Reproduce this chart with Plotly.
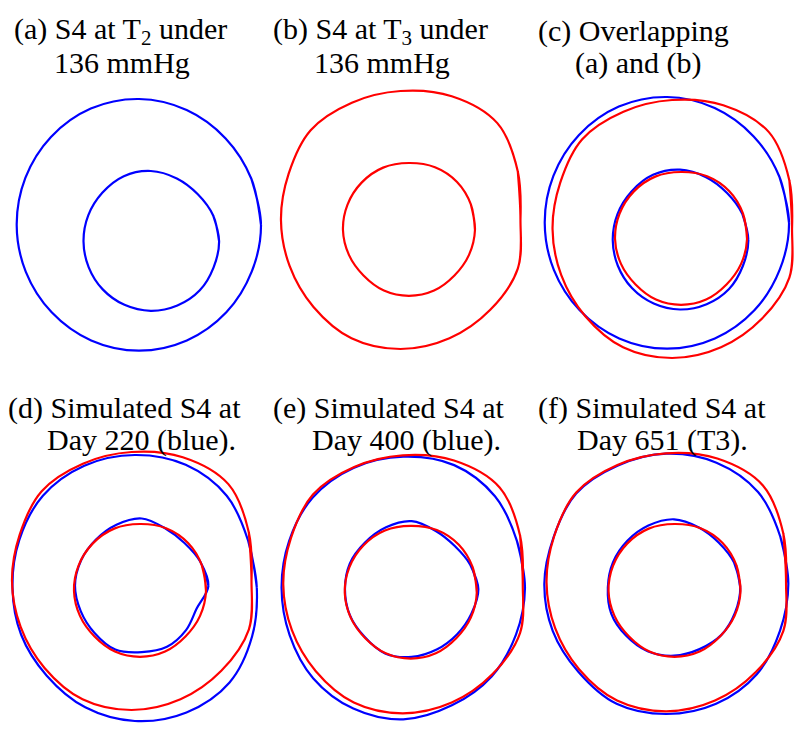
import numpy as np
import plotly.graph_objects as go
from plotly.subplots import make_subplots

# angles (deg, counter-clockwise from 3 o'clock) at which the wall radii were read
angles_deg = [0, 22.5, 45, 67.5, 90, 112.5, 135, 157.5,
              180, 202.5, 225, 247.5, 270, 292.5, 315, 337.5]

# radii of each wall contour (px) at those angles
t2_outer = [122, 121.5, 122.5, 124.5, 126, 126, 124.5, 123,
            122.3, 122.5, 123.5, 125, 125.7, 125, 123.5, 122]
t2_inner = [68.3, 67.5, 66.5, 68, 70.3, 70.5, 68.6, 67.7,
            67.3, 67.3, 68, 68.8, 69.5, 69.5, 69.3, 68]
t3_outer = [120, 127, 137, 134, 129, 127, 127, 121,
            119.5, 120, 123, 128, 129, 128, 127, 127]
t3_inner = [66, 67, 68, 68, 67, 67.5, 67, 66.5,
            66, 65, 64.3, 65.5, 65.8, 65.5, 64.3, 65]
day220_outer = [122, 122.7, 130, 133, 132.7, 132, 130, 125,
                122.3, 123, 124.5, 129.5, 133.3, 135, 134, 127]
day220_inner = [66.7, 63.3, 60.5, 62, 67.3, 66, 65, 65.7,
                66.7, 66, 66.7, 69, 66.3, 66, 62.7, 59.5]
day400_outer = [121.7, 123, 129.7, 133, 131.3, 130, 128, 123.5,
                121.7, 123, 127.5, 130.5, 131.3, 127, 125, 122]
day400_inner = [66.7, 63.5, 61, 63, 68, 67, 66, 67,
                66.7, 67, 67, 69.5, 67.7, 65.3, 64, 64.5]
day651_outer = [122, 123.3, 129.7, 131, 130, 127.7, 127.5, 122,
                122, 123, 124.5, 130, 130.3, 130, 128, 123]
day651_inner = [66.2, 65, 63.4, 65, 68.2, 67, 66, 66,
                66.2, 68, 68, 69, 68.2, 66.7, 67, 66]

BLUE = "#0000FF"
RED = "#FF0000"
PANEL_W = 800 / 3
PANEL_H = 367

# (row, col, title lines, contours: radii, centre in panel px, colour)
panels = [
    (1, 1, [("(a) S4 at T<sub>2</sub> under", 11.7, 30.5), ("136 mmHg", 51.7, 62.5)],
     [(t2_outer, (139, 225), BLUE), (t2_inner, (150.8, 241.3), BLUE)]),
    (1, 2, [("(b) S4 at T<sub>3</sub> under", 4.3, 30.5), ("136 mmHg", 45, 62.5)],
     [(t3_outer, (133.8, 220), RED), (t3_inner, (142.3, 230), RED)]),
    (1, 3, [("(c) Overlapping", 2.7, 30.5), ("(a) and (b)", 39.7, 62.5)],
     [(t2_outer, (133.7, 223), BLUE), (t2_inner, (146.7, 240), BLUE),
      (t3_outer, (138.7, 229), RED), (t3_inner, (147.7, 239), RED)]),
    (2, 1, [("(d) Simulated S4 at", 6, 41), ("Day 220 (blue).", 45, 73)],
     [(day220_outer, (134.8, 220.7), BLUE), (day220_inner, (141.7, 218.8), BLUE),
      (t3_outer, (131.5, 214), RED), (t3_inner, (140, 224), RED)]),
    (2, 2, [("(e) Simulated S4 at", 4.3, 41), ("Day 400 (blue).", 43.3, 73)],
     [(day400_outer, (136.6, 221), BLUE), (day400_inner, (145, 222.2), BLUE),
      (t3_outer, (136.1, 217.3), RED), (t3_inner, (144.1, 225.8), RED)]),
    (2, 3, [("(f) Simulated S4 at", 2.7, 41), ("Day 651 (T3).", 41.7, 73)],
     [(day651_outer, (133, 216.7), BLUE), (day651_inner, (140.7, 220.5), BLUE),
      (t3_outer, (132.7, 215.3), RED), (t3_inner, (141.2, 224), RED)]),
]

fig = make_subplots(rows=2, cols=3, horizontal_spacing=0, vertical_spacing=0)
theta = np.radians(angles_deg)

for row, col, lines, contours in panels:
    idx = (row - 1) * 3 + col
    sfx = "" if idx == 1 else str(idx)
    for radii, (cx, cy), colour in contours:
        r = np.array(radii)
        xs = cx + r * np.cos(theta)
        ys = cy - r * np.sin(theta)
        # close the loop (overlap two points so the spline joins smoothly)
        xs = np.append(xs, xs[:2])
        ys = np.append(ys, ys[:2])
        fig.add_trace(go.Scatter(x=xs, y=ys, mode="lines",
                                 line=dict(color=colour, width=2.2, shape="spline", smoothing=1),
                                 hoverinfo="skip", showlegend=False),
                      row=row, col=col)
    for text, tx, ty in lines:
        fig.add_annotation(x=tx, y=ty, xref="x" + sfx, yref="y" + sfx, text=text,
                           showarrow=False, xanchor="left", yanchor="middle",
                           font=dict(family="Liberation Serif", size=30, color="black"))
    fig.update_xaxes(range=[0, PANEL_W], visible=False, row=row, col=col)
    fig.update_yaxes(range=[PANEL_H, 0], visible=False, row=row, col=col)

fig.update_layout(width=800, height=734, margin=dict(l=0, r=0, t=0, b=0),
                  plot_bgcolor="white", paper_bgcolor="white", showlegend=False)
# page body has an 8px default margin; drop it so the figure fills the window
fig.write_html("out.html", config={"displayModeBar": False},
               post_script="document.body.style.margin='0';")
